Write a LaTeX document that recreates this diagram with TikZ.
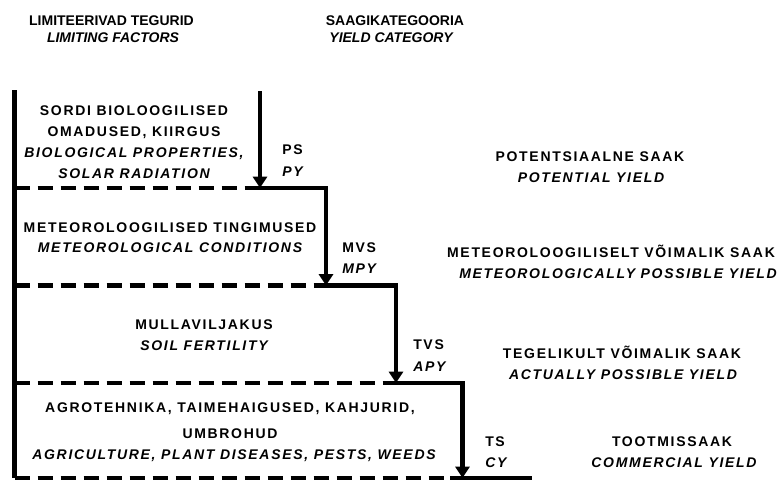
\documentclass[tikz,border=0pt]{standalone}
\usepackage{fontspec}
\setmainfont{Liberation Sans}
\newfontfamily\bodyf[LetterSpace=12]{Liberation Sans}
\usetikzlibrary{arrows.meta}
\begin{document}
\begin{tikzpicture}[x=0.75pt,y=-0.75pt,
  solidline/.style={line width=3.4pt, line cap=rect},
  leftline/.style={line width=3.4pt},
  dashline/.style={line width=3.4pt, dash pattern=on 11.25pt off 6pt},
  arrowline/.style={line width=3.4pt, -{Triangle[length=8.5pt,width=10.5pt]}},
  ttl/.style={font=\fontsize{10.5pt}{12pt}\selectfont\bfseries, anchor=base, inner sep=0pt},
  ttli/.style={font=\fontsize{10.5pt}{12pt}\selectfont\bfseries\itshape, anchor=base, inner sep=0pt},
  lbl/.style={font=\bodyf\fontsize{10.5pt}{12pt}\selectfont\bfseries, anchor=base, inner sep=0pt},
  lbli/.style={font=\bodyf\fontsize{10.5pt}{12pt}\selectfont\bfseries\itshape, anchor=base, inner sep=0pt},
  steplbl/.style={lbl, anchor=base west},
  steplbli/.style={lbli, anchor=base west}]
\fill[white] (0,0) rectangle (782,480);
\useasboundingbox (0,0) rectangle (782,480);

% coordinates
\coordinate (L0) at (14.5,90);
\coordinate (L1) at (14.5,188);
\coordinate (L2) at (14.5,285.5);
\coordinate (L3) at (14.5,383);
\coordinate (L4) at (14.5,478);
\coordinate (A0) at (260,91);
\coordinate (A1) at (260,188);
\coordinate (B1) at (326,188);
\coordinate (B2) at (326,285.5);
\coordinate (C2) at (396,285.5);
\coordinate (C3) at (396,383);
\coordinate (D3) at (462.5,383);
\coordinate (D4) at (462.5,478);
\coordinate (S4) at (452,478);
\coordinate (E4) at (530,478);

% lines
\draw[leftline] (L0) -- (L4);
\draw[dashline] (L1) -- (A1);
\draw[dashline] (L2) -- (B2);
\draw[dashline] (L3) -- (C3);
\draw[dashline] (L4) -- (S4);
\draw[solidline] (A1) -- (B1);
\draw[solidline] (B2) -- (C2);
\draw[solidline] (C3) -- (D3);
\draw[solidline] (S4) -- (E4);
\draw[arrowline] (A0) -- (A1);
\draw[arrowline] (B1) -- (B2);
\draw[arrowline] (C2) -- (C3);
\draw[arrowline] (D3) -- (D4);

% titles
\node[ttl]  (t1a) at (111.5,25) {LIMITEERIVAD TEGURID};
\node[ttli] (t1b) at (113,42) {LIMITING FACTORS};
\node[ttl]  (t2a) at (395,25) {SAAGIKATEGOORIA};
\node[ttli] (t2b) at (391,42) {YIELD CATEGORY};

% left blocks
\node[lbl]  (b1a) at (134,115) {SORDI BIOLOOGILISED};
\node[lbl]  (b1b) at (134,136) {OMADUSED, KIIRGUS};
\node[lbli] (b1c) at (134,157) {BIOLOGICAL PROPERTIES,};
\node[lbli] (b1d) at (134,178) {SOLAR RADIATION};

\node[lbl]  (b2a) at (170,232) {METEOROLOOGILISED TINGIMUSED};
\node[lbli] (b2b) at (170,252) {METEOROLOGICAL CONDITIONS};

\node[lbl]  (b3a) at (204,329) {MULLAVILJAKUS};
\node[lbli] (b3b) at (204,350) {SOIL FERTILITY};

\node[lbl]  (b4a) at (230,412) {AGROTEHNIKA, TAIMEHAIGUSED, KAHJURID,};
\node[lbl]  (b4b) at (230,438.5) {UMBROHUD};
\node[lbli] (b4c) at (234,459) {AGRICULTURE, PLANT DISEASES, PESTS, WEEDS};

% step labels
\node[steplbl]  (s1a) at (282,154) {PS};
\node[steplbli] (s1b) at (282,176) {PY};
\node[steplbl]  (s2a) at (342,252.5) {MVS};
\node[steplbli] (s2b) at (342,273) {MPY};
\node[steplbl]  (s3a) at (413,349) {TVS};
\node[steplbli] (s3b) at (413,371) {APY};
\node[steplbl]  (s4a) at (485,446) {TS};
\node[steplbli] (s4b) at (485,467) {CY};

% yield categories
\node[lbl]  (y1a) at (590,161) {POTENTSIAALNE SAAK};
\node[lbli] (y1b) at (591,182) {POTENTIAL YIELD};
\node[lbl]  (y2a) at (611,257) {METEOROLOOGILISELT VÕIMALIK SAAK};
\node[lbli] (y2b) at (618,278) {METEOROLOGICALLY POSSIBLE YIELD};
\node[lbl]  (y3a) at (622,358) {TEGELIKULT VÕIMALIK SAAK};
\node[lbli] (y3b) at (623,379) {ACTUALLY POSSIBLE YIELD};
\node[lbl]  (y4a) at (672,446) {TOOTMISSAAK};
\node[lbli] (y4b) at (674,467) {COMMERCIAL YIELD};
\end{tikzpicture}
\end{document}
